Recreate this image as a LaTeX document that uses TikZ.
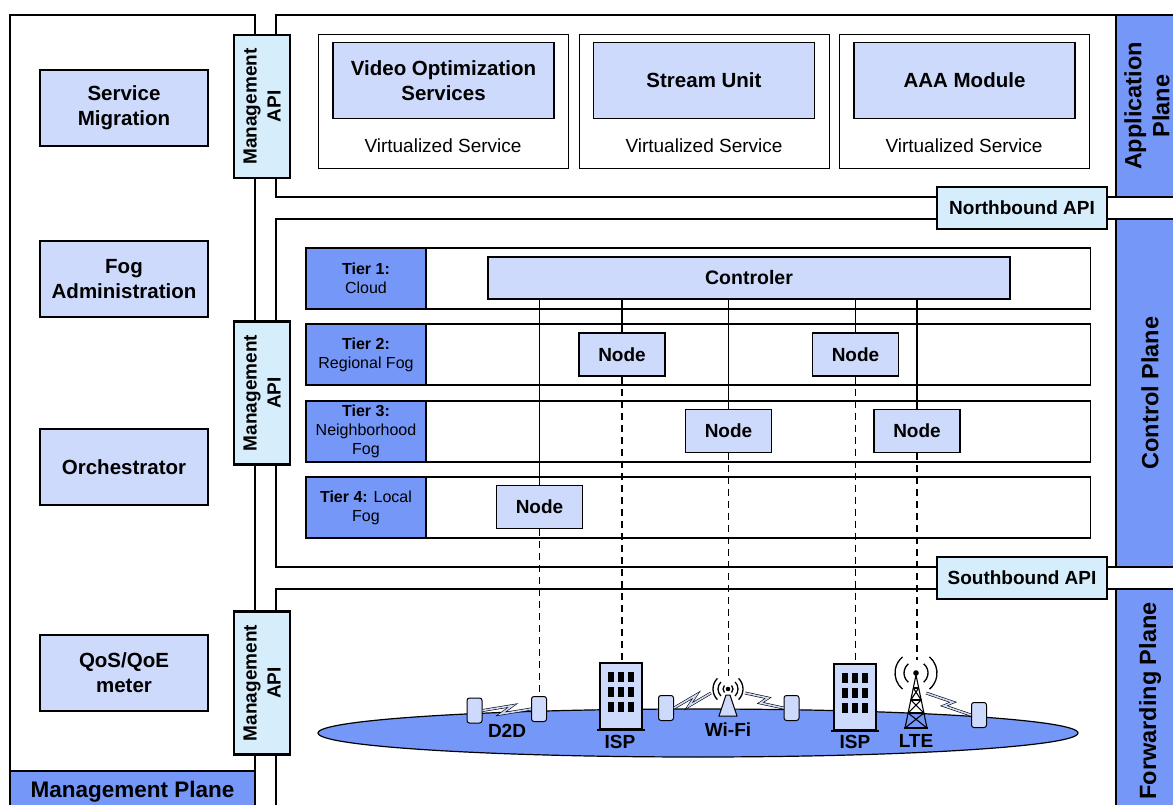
\documentclass[tikz,border=0pt]{standalone}
\usepackage{fontspec}
\setmainfont{Liberation Sans}
\usetikzlibrary{calc}
\definecolor{stripblue}{RGB}{117,151,248}
\definecolor{lightbl}{RGB}{205,218,251}
\definecolor{apibl}{RGB}{214,238,251}
\newcommand\myfs[2]{\fontsize{#1}{#2}\selectfont}
\begin{document}
\begin{tikzpicture}[x=1pt,y=-1pt,
  plane/.style={draw, line width=2.6},
  stripfill/.style={draw, line width=2.6, fill=stripblue},
  striptext/.style={font=\myfs{23.5}{28}\bfseries, rotate=90, align=center},
  lbox/.style={draw, line width=1.3, fill=lightbl, align=center, inner sep=0, minimum width=168, minimum height=76, font=\myfs{20.5}{25}\bfseries},
  apibox/.style={draw, line width=2.4, fill=apibl, align=center, inner sep=0, rotate=90, minimum width=143, minimum height=56, font=\myfs{19}{24}\bfseries},
  boundapi/.style={draw, line width=2.4, fill=apibl, inner sep=0, minimum width=170, minimum height=42, font=\myfs{19}{23}\bfseries},
  vsbox/.style={draw, line width=1, fill=white, inner sep=0, minimum width=250, minimum height=134},
  svcbox/.style={draw, line width=1.3, fill=lightbl, align=center, inner sep=0, minimum width=221, minimum height=76, font=\myfs{20.5}{25}\bfseries},
  vstext/.style={font=\myfs{19}{23}},
  tierrow/.style={draw, line width=1.3, fill=white, inner sep=0, minimum width=785, minimum height=61, anchor=west},
  tierlab/.style={draw, line width=2, fill=stripblue, align=center, inner sep=0, minimum width=120, minimum height=61, anchor=west, font=\myfs{16}{19}},
  ctrlbox/.style={draw, line width=1.3, fill=lightbl, inner sep=0, minimum width=522, minimum height=42, font=\myfs{19.5}{23}\bfseries},
  fognode/.style={draw, line width=1.3, fill=lightbl, inner sep=0, minimum width=86, minimum height=43, font=\myfs{19}{23}\bfseries},
  solidlink/.style={line width=1.2},
  dashlink/.style={line width=1.2, dash pattern=on 7pt off 5pt},
  phone/.style={draw, line width=1, fill=lightbl, rounded corners=2.5, inner sep=0, minimum width=15, minimum height=25,
    path picture={\fill (path picture bounding box.north west) rectangle ([yshift=-3pt]path picture bounding box.north east);
                  \fill (path picture bounding box.south west) rectangle ([yshift=3.5pt]path picture bounding box.south east);}},
  building/.style={draw, line width=2, fill=lightbl, inner sep=0, minimum width=42, minimum height=66},
  devlabel/.style={font=\myfs{19}{23}\bfseries},
  bolt/.style={draw, line width=0.6, double=lightbl, double distance=1.6, line join=miter},
  waves/.style={line width=1.3},
]
\useasboundingbox (0,0) rectangle (1173,805);
\clip (0,0) rectangle (1173,805);
\fill[white] (0,0) rectangle (1173,805);

% ---------- Management plane ----------
\draw[plane] (10,15) rectangle (255,840);
\draw[stripfill] (10,771) rectangle (255,840);
\node[font=\myfs{22.5}{27}\bfseries] (mplab) at (132.5,792) {Management Plane};
\node[lbox] (smig) at (124,108) {Service\\Migration};
\node[lbox] (fadm) at (124,279) {Fog\\Administration};
\node[lbox] (orch) at (124,467) {Orchestrator};
\node[lbox] (qos) at (124,673) {QoS/QoE\\meter};

% ---------- Application plane ----------
\draw[plane] (276,15) rectangle (1190,197);
\draw[stripfill] (1116,15) rectangle (1190,197);
\node[striptext] (aplab) at (1147,106) {Application\\Plane};
\node[vsbox] (vs1) at (443,102) {};
\node[vsbox] (vs2) at (704,102) {};
\node[vsbox] (vs3) at (964,102) {};
\node[svcbox] (vos) at (443.5,80.5) {Video Optimization\\Services};
\node[svcbox] (stu) at (704,80.5) {Stream Unit};
\node[svcbox] (aaa) at (964.5,80.5) {AAA Module};
\node[vstext] (vt1) at (443,146) {Virtualized Service};
\node[vstext] (vt2) at (704,146) {Virtualized Service};
\node[vstext] (vt3) at (964,146) {Virtualized Service};

% ---------- Control plane ----------
\draw[plane] (276,219) rectangle (1190,567);
\draw[stripfill] (1116,219) rectangle (1190,567);
\node[striptext] (cplab) at (1150,393) {Control Plane};

\node[tierrow] (row1) at (305,278.5) {};
\node[tierrow] (row2) at (305,354.5) {};
\node[tierrow] (row3) at (305,431.5) {};
\node[tierrow] (row4) at (305,507.5) {};
\node[tierlab] (t1) at (305,278.5) {\textbf{Tier 1:}\\Cloud};
\node[tierlab] (t2) at (305,354.5) {\textbf{Tier 2:}\\Regional Fog};
\node[tierlab] (t3) at (305,431.5) {\textbf{Tier 3:}\\Neighborhood\\Fog};
\node[tierlab] (t4) at (305,507.5) {\textbf{Tier 4:} Local\\Fog};

\node[ctrlbox] (ctrl) at (749,278) {Controler};
\coordinate (n4p) at (539.5,507);
\coordinate (n2ap) at (622,354.5);
\coordinate (n3ap) at (728.5,431);
\coordinate (n2bp) at (855.5,354.5);
\coordinate (n3bp) at (917,431);
\draw[solidlink] (n4p) -- (n4p |- ctrl.south);
\draw[solidlink] (n2ap) -- (n2ap |- ctrl.south);
\draw[solidlink] (n3ap) -- (n3ap |- ctrl.south);
\draw[solidlink] (n2bp) -- (n2bp |- ctrl.south);
\draw[solidlink] (n3bp) -- (n3bp |- ctrl.south);
\node[fognode] (n4) at (n4p) {Node};
\node[fognode] (n2a) at (n2ap) {Node};
\node[fognode] (n3a) at (n3ap) {Node};
\node[fognode] (n2b) at (n2bp) {Node};
\node[fognode] (n3b) at (n3bp) {Node};

% ---------- Forwarding plane ----------
\draw[plane] (276,589) rectangle (1190,840);
\draw[stripfill] (1116,589) rectangle (1190,840);
\node[striptext] (fplab) at (1150,701) {Forwarding Plane};

% API boxes
\node[boundapi] (nbapi) at (1022,208) {Northbound API};
\node[boundapi] (sbapi) at (1022,578) {Southbound API};
\node[apibox] (mapi1) at (262,106.5) {Management\\API};
\node[apibox] (mapi2) at (262,393) {Management\\API};
\node[apibox] (mapi3) at (262,683) {Management\\API};

% ground ellipse
\draw[fill=stripblue, line width=1.2] (698,733) ellipse [x radius=380, y radius=24];

% devices
\node[phone] (p1) at (474.5,710.5) {};
\node[phone] (p2) at (539,709) {};
\node[phone] (p3) at (666,708) {};
\node[phone] (p4) at (791.5,708) {};
\node[phone] (p5) at (979,715) {};
\node[building] (isp1) at (621,696) {};
\node[building] (isp2) at (855,697) {};
\foreach \b in {isp1,isp2} {
  \foreach \dx in {-10,0,10} {
    \foreach \dy in {-19,-4,11} {
      \fill[shift={(\b.center)}] (\dx-3,\dy-5) rectangle (\dx+3,\dy+5);
    }
  }
  \draw[line width=2.4] ([xshift=-2pt]\b.south west) -- ([xshift=2pt]\b.south east);
}

% Wi-Fi access point
\coordinate (wifi) at (728,689);
\coordinate (wifitop) at (728,679);
\coordinate (wifiL) at (711,693);
\coordinate (wifiR) at (745,693);
\draw[fill=lightbl, line width=1] ($(wifi)+(-2,6)$) -- ($(wifi)+(2,6)$) -- ($(wifi)+(9,27)$) -- ($(wifi)+(-9,27)$) -- cycle;
\fill (wifi) circle (2.3);
\foreach \r in {5,10,15} {
  \draw[waves] ($(wifi)+(-45:\r)$) arc[start angle=-45, end angle=45, radius=\r];
  \draw[waves] ($(wifi)+(135:\r)$) arc[start angle=135, end angle=225, radius=\r];
}

% LTE tower
\coordinate (lte) at (916,673);
\coordinate (ltetop) at (916,660);
\coordinate (lteR) at (926,693);
\fill (lte) circle (2.8);
\foreach \r in {12,21} {
  \draw[waves] ($(lte)+(-50:\r)$) arc[start angle=-50, end angle=50, radius=\r];
  \draw[waves] ($(lte)+(130:\r)$) arc[start angle=130, end angle=230, radius=\r];
}
\begin{scope}[shift={(lte)}, line width=1.1]
  \draw (0,2) -- (-11,55);
  \draw (0,2) -- (11,55);
  \draw (-2.7,15) -- (2.7,15);
  \draw (-5.2,27) -- (5.2,27);
  \draw (-7.9,40) -- (7.9,40);
  \draw (-2.7,15) -- (5.2,27) (2.7,15) -- (-5.2,27);
  \draw (-5.2,27) -- (7.9,40) (5.2,27) -- (-7.9,40);
  \draw (-7.9,40) -- (11,55) (7.9,40) -- (-11,55);
  \draw[line width=1.6] (-12,55) -- (12,55);
\end{scope}

% wireless links
\draw[bolt] (p1.east) -- ($(p1.east)!0.62!(p2.west)+(0,-4)$) -- ($(p1.east)!0.38!(p2.west)+(0,4)$) -- (p2.west);
\draw[bolt] (p3.east) -- ($(p3.east)!0.6!(wifiL)+(0,-4)$) -- ($(p3.east)!0.4!(wifiL)+(0,4)$) -- (wifiL);
\draw[bolt] (wifiR) -- ($(wifiR)!0.6!(p4.west)+(0,-4)$) -- ($(wifiR)!0.4!(p4.west)+(0,4)$) -- (p4.west);
\draw[bolt] (lteR) -- ($(lteR)!0.6!(p5.west)+(0,-4)$) -- ($(lteR)!0.4!(p5.west)+(0,4)$) -- (p5.west);

% device labels
\node[devlabel] (ld2d) at (507,731) {D2D};
\node[devlabel] (lisp1) at (620,742) {ISP};
\node[devlabel] (lwifi) at (728,730) {Wi-Fi};
\node[devlabel] (lisp2) at (855,742) {ISP};
\node[devlabel] (llte) at (916,741) {LTE};

% dashed links from fog nodes to access devices
\draw[dashlink] (n4.south) -- (n4.south |- p2.north);
\draw[dashlink] (n2a.south) -- (n2a.south |- isp1.north);
\draw[dashlink] (n3a.south) -- (n3a.south |- wifitop);
\draw[dashlink] (n2b.south) -- (n2b.south |- isp2.north);
\draw[dashlink] (n3b.south) -- (n3b.south |- ltetop);
\end{tikzpicture}
\end{document}
